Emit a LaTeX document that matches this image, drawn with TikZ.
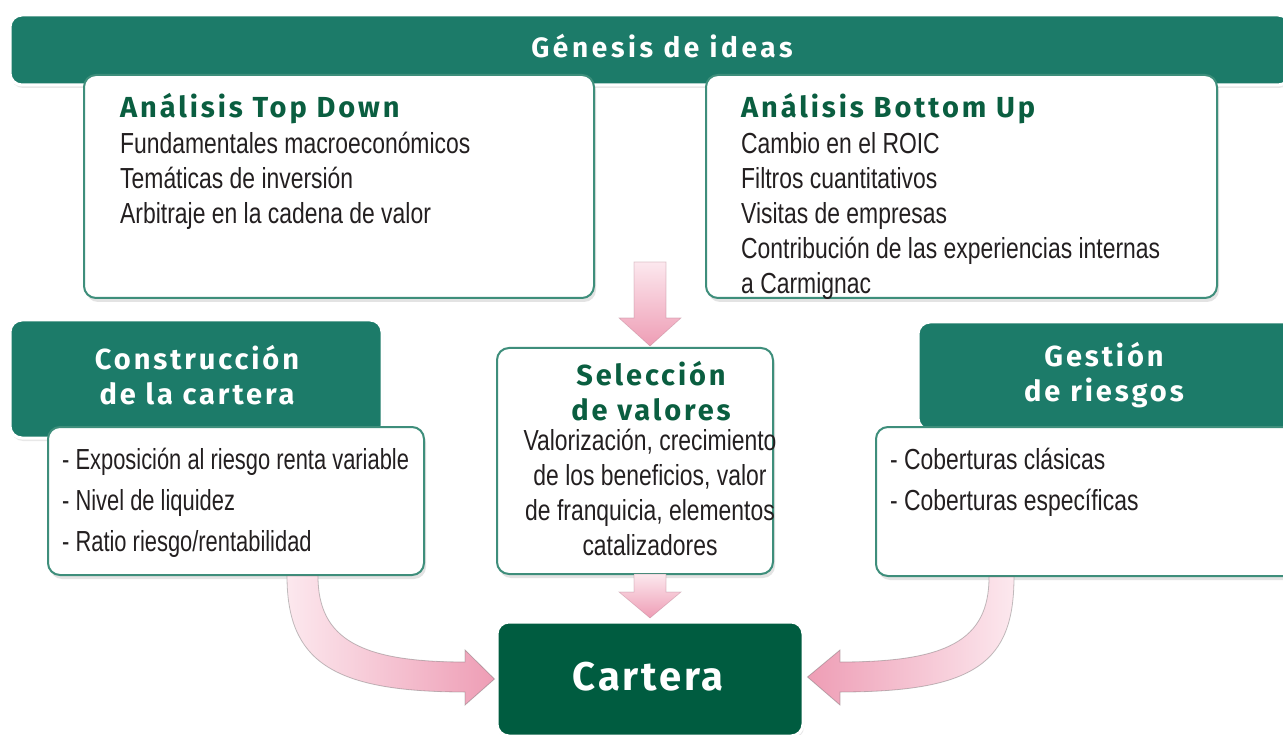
\documentclass[tikz,border=0pt]{standalone}
\usepackage{fontspec}
\setmainfont[FakeStretch=0.79]{Liberation Sans}
\newfontfamily\condfont[FakeStretch=0.755]{Liberation Sans}
\newfontfamily\headfont[LetterSpace=10]{Fira Sans}
\newfontfamily\genfont[LetterSpace=13]{Fira Sans}
\newfontfamily\cartfont[LetterSpace=7]{Fira Sans}
\usetikzlibrary{shadows,calc}
\definecolor{teal1}{HTML}{1C7B69}
\definecolor{dgreen}{HTML}{005C40}
\definecolor{hgreen}{HTML}{0A5E40}
\definecolor{bord}{HTML}{3E8E7B}
\definecolor{pinkA}{HTML}{EE9DB5}
\definecolor{pinkB}{HTML}{FCE8EE}
\definecolor{txt}{HTML}{231F20}
\begin{document}
\begin{tikzpicture}[x=1pt,y=-1pt,
  banner/.style={draw=white, line width=3pt, fill=teal1, rounded corners=12pt, inner sep=0pt,
     drop shadow={shadow xshift=1pt, shadow yshift=-3pt, opacity=0.18}},
  wbox/.style={draw=bord, line width=2pt, fill=white, rounded corners=12pt, inner sep=0pt,
     drop shadow={shadow xshift=2pt, shadow yshift=-4pt, opacity=0.22}},
  cbox/.style={draw=white, line width=3pt, fill=dgreen, rounded corners=12pt, inner sep=0pt,
     drop shadow={shadow xshift=1pt, shadow yshift=-3pt, opacity=0.18}},
  bantext/.style={text=white, inner sep=0pt, align=center, font={\headfont\bfseries\fontsize{29}{35}\selectfont}},
  headtext/.style={text=hgreen, inner sep=0pt, font={\headfont\bfseries\fontsize{29}{35}\selectfont}},
  bodytext/.style={text=txt, inner sep=0pt, font={\fontsize{29}{35}\selectfont}},
  listtext/.style={text=txt, inner sep=0pt, align=left, font={\fontsize{29}{41}\selectfont}},
  parrow/.style={top color=pinkB, bottom color=pinkA, draw=pinkA!70!black, draw opacity=0.35, line width=0.6pt},
]
\clip (0,0) rectangle (1283,735);
\fill[white] (0,0) rectangle (1283,735);

% Génesis banner
\node[banner, minimum width=1280pt, minimum height=70pt] (gen) at (650,50) {};
\node[bantext, font={\genfont\bfseries\fontsize{28}{32}\selectfont}] (gent) at (662,46) {Génesis de ideas};

% Top down / Bottom up
\node[wbox, minimum width=510pt, minimum height=223pt] (td) at (339,186.5) {};
\node[headtext, anchor=base west] (tdh) at (120,118) {Análisis Top Down};
\node[bodytext, align=left, anchor=north west] (tdb) at (120,132) {Fundamentales macroeconómicos\\Temáticas de inversión\\Arbitraje en la cadena de valor};

\node[wbox, minimum width=511pt, minimum height=223pt] (bu) at (961.5,186.5) {};
\node[headtext, anchor=base west] (buh) at (741,118) {Análisis Bottom Up};
\node[bodytext, align=left, anchor=north west] (bub) at (741,132) {Cambio en el ROIC\\Filtros cuantitativos\\Visitas de empresas\\Contribución de las experiencias internas\\a Carmignac};

% down arrow 1
\coordinate (a1s) at (650,262);
\shade[parrow] ($(a1s)+(-16,0)$) -- ($(a1s)+(16,0)$) -- ($(a1s)+(16,56)$) -- ($(a1s)+(31,56)$) -- ($(a1s)+(0,84)$) -- ($(a1s)+(-31,56)$) -- ($(a1s)+(-16,56)$) -- cycle;

% Construcción
\node[banner, minimum width=372pt, minimum height=118pt] (cons) at (196,379) {};
\node[bantext] (const) at (197,375) {Construcción\\de la cartera};
\node[wbox, minimum width=376pt, minimum height=148pt] (consb) at (236,501) {};
\node[listtext, anchor=north west, font={\condfont\fontsize{29}{41}\selectfont}] (consl) at (62,448) {- Exposición al riesgo renta variable\\- Nivel de liquidez\\- Ratio riesgo/rentabilidad};

% Gestión
\node[banner, minimum width=380pt, minimum height=108pt] (ges) at (1108,376) {};
\node[bantext] (gest) at (1104,375) {Gestión\\de riesgos};
\node[wbox, minimum width=420pt, minimum height=149pt] (gesb) at (1086,501.5) {};
\node[listtext, anchor=north west] (gesl) at (890,448) {- Coberturas clásicas\\- Coberturas específicas};

% Selección
\node[wbox, minimum width=276pt, minimum height=226pt] (sel) at (635,461) {};
\node[headtext, align=center] (selh) at (651,391) {Selección\\de valores};
\node[bodytext, align=center, anchor=north] (selb) at (650,429) {Valorización, crecimiento\\de los beneficios, valor\\de franquicia, elementos\\catalizadores};

% down arrow 2
\coordinate (a2s) at (650,574);
\shade[parrow] ($(a2s)+(-16,0)$) -- ($(a2s)+(16,0)$) -- ($(a2s)+(16,18)$) -- ($(a2s)+(31,18)$) -- ($(a2s)+(0,44)$) -- ($(a2s)+(-31,18)$) -- ($(a2s)+(-16,18)$) -- cycle;

% Cartera
\node[cbox, minimum width=306pt, minimum height=114pt] (cart) at (650,679) {};
\node[text=white, inner sep=0pt, font={\cartfont\bfseries\fontsize{40}{48}\selectfont}] (cartt) at (648,677) {Cartera};

% curved arrows
\coordinate (la) at (302,576);
\coordinate (ra) at (1001,577);
\shade[left color=pinkB, right color=pinkA, draw=black!60, draw opacity=0.4, line width=0.8pt]
  ($(la)+(-15,0)$) .. controls ($(la)+(-15,85)$) and ($(la)+(30,116)$) .. ($(la)+(163,116)$)
  -- ($(la)+(163,129)$) -- ($(cart.west)+(-1,0)$) -- ($(la)+(163,74)$) -- ($(la)+(163,86)$)
  .. controls ($(la)+(60,86)$) and ($(la)+(16,64)$) .. ($(la)+(16,0)$) -- cycle;
\shade[right color=pinkB, left color=pinkA, draw=black!60, draw opacity=0.4, line width=0.8pt]
  ($(ra)+(13,0)$) .. controls ($(ra)+(13,85)$) and ($(ra)+(-25,115)$) .. ($(ra)+(-161,115)$)
  -- ($(ra)+(-161,128)$) -- ($(cart.east)+(3,-2)$) -- ($(ra)+(-161,73)$) -- ($(ra)+(-161,85)$)
  .. controls ($(ra)+(-55,85)$) and ($(ra)+(-12,64)$) .. ($(ra)+(-12,0)$) -- cycle;
\end{tikzpicture}
\end{document}
